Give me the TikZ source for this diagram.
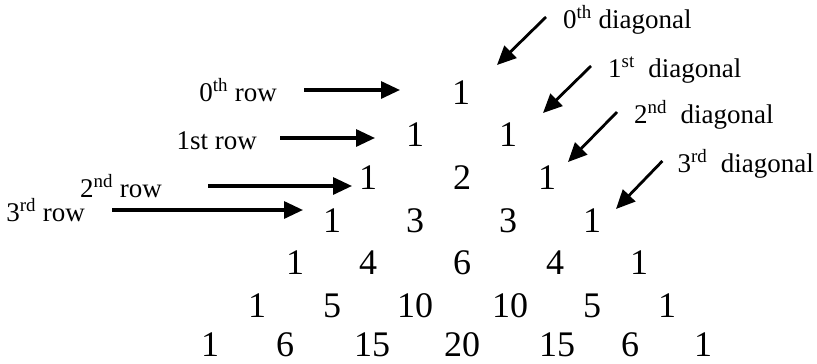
\documentclass[tikz,border=0pt]{standalone}
\usepackage{fontspec}
\setmainfont{Liberation Serif}
\usetikzlibrary{arrows.meta}
\tikzset{
  num/.style={anchor=base, inner sep=0pt, text depth=0pt, font=\fontsize{36}{40}\selectfont},
  lbl/.style={inner sep=0pt, font=\fontsize{27}{30}\selectfont},
  rowarrow/.style={line width=3.2pt, -{Triangle[length=19pt,width=17pt]}},
  diagarrow/.style={line width=2.8pt, -{Triangle[length=19pt,width=17pt]}},
}
\begin{document}
\begin{tikzpicture}[x=1pt,y=-1pt]
    \useasboundingbox (0,0) rectangle (817,364);

    % the triangle, one row at a time
    \node[num] (n01) at (461,104) {1};
    \foreach \x/\v [count=\k] in {415/1,508/1}
        \node[num] (n1\k) at (\x,146) {\v};
    \foreach \x/\v [count=\k] in {368/1,462/2,547/1}
        \node[num] (n2\k) at (\x,189) {\v};
    \foreach \x/\v [count=\k] in {332/1,415/3,508/3,592/1}
        \node[num] (n3\k) at (\x,232) {\v};
    \foreach \x/\v [count=\k] in {295/1,368/4,462/6,555/4,639/1}
        \node[num] (n4\k) at (\x,274) {\v};
    \foreach \x/\v [count=\k] in {257/1,332/5,415/10,510/10,592/5,667/1}
        \node[num] (n5\k) at (\x,317) {\v};
    \foreach \x/\v [count=\k] in {210/1,285/6,372/15,462/20,557/15,630/6,703/1}
        \node[num] (n6\k) at (\x,356) {\v};

    % rows
    \node[lbl, anchor=base east] (row0) at (277,101) {0\textsuperscript{th} row};
    \node[lbl, anchor=base east] (row1) at (257,149) {1st row};
    \node[lbl, anchor=base east] (row2) at (162,197) {2\textsuperscript{nd} row};
    \node[lbl, anchor=base east] (row3) at (85,221) {3\textsuperscript{rd} row};

    \coordinate (tip0) at (400,90);
    \coordinate (tip1) at (375,138);
    \coordinate (tip2) at (352,186);
    \coordinate (tip3) at (303,210);

    \draw[rowarrow] (row0.base east) ++(27,-11) -- (tip0);
    \draw[rowarrow] (row1.base east) ++(23,-11) -- (tip1);
    \draw[rowarrow] (row2.base east) ++(46,-11) -- (tip2);
    \draw[rowarrow] (row3.base east) ++(27,-11) -- (tip3);

    % diagonals
    \node[lbl, anchor=base west] (diag0) at (563,28) {0\textsuperscript{th} diagonal};
    \node[lbl, anchor=base west] (diag1) at (608,77) {1\textsuperscript{st}\ \ diagonal};
    \node[lbl, anchor=base west] (diag2) at (634,123) {2\textsuperscript{nd}\ \ diagonal};
    \node[lbl, anchor=base east] (diag3) at (814,172) {3\textsuperscript{rd}\ \ diagonal};

    \coordinate (dtip0) at (497,65);
    \coordinate (dtip1) at (543,113);
    \coordinate (dtip2) at (568,162);
    \coordinate (dtip3) at (616,209);

    \foreach \i in {0,...,2}
        \draw[diagarrow] (diag\i.base west) ++(-17,-11) -- (dtip\i);
    \draw[diagarrow] (diag3.base west) ++(-15,-11) -- (dtip3);
\end{tikzpicture}
\end{document}
